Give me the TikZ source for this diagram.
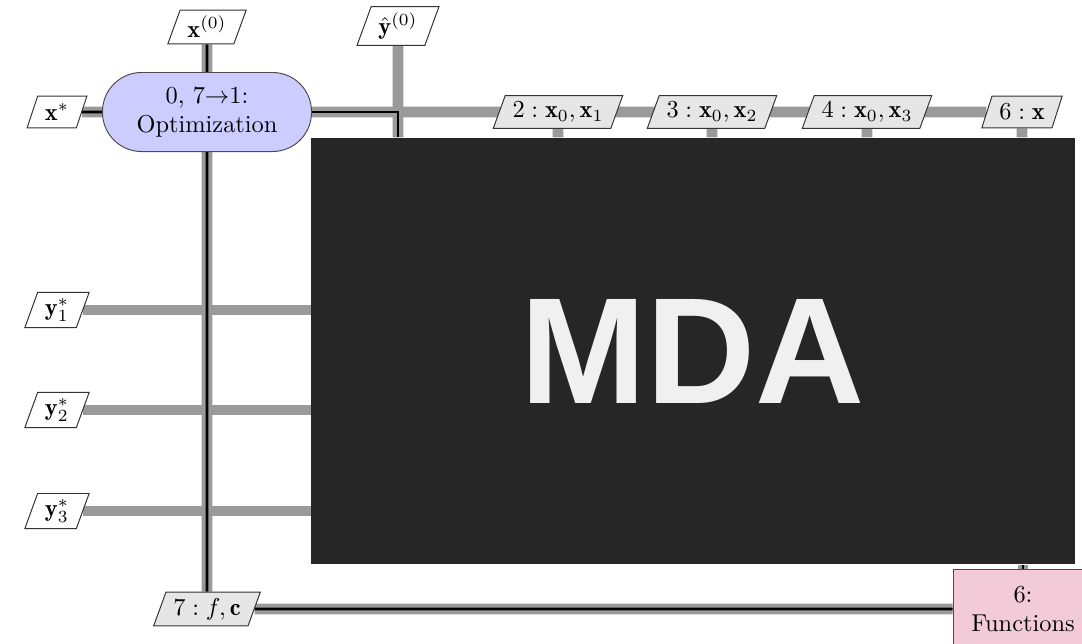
\documentclass[tikz,border=0pt]{standalone}
\usepackage{fontspec}
\newfontfamily\coverfont{Liberation Sans}
\usetikzlibrary{shapes.geometric,positioning}
\pgfdeclarelayer{background}
\pgfsetlayers{background,main}
\definecolor{optblue}{HTML}{CCCCFF}
\definecolor{funcpink}{HTML}{F2CAD8}
\definecolor{datagray}{HTML}{E6E6E6}
\definecolor{linegray}{HTML}{9A9A9A}
\definecolor{coverdark}{HTML}{262626}

\begin{document}
\begin{tikzpicture}[x=0.41pt,y=-0.41pt,
	datain/.style={trapezium, trapezium left angle=70, trapezium right angle=110, trapezium stretches body,
		draw=black!80, fill=white, inner xsep=3pt, inner ysep=2.5pt, minimum height=13pt},
	datamid/.style={datain, fill=datagray},
	optbox/.style={rectangle, rounded corners=16pt, draw=black!70, fill=optblue, align=center,
		minimum width=85.7pt, minimum height=32.4pt, inner sep=1pt},
	funcbox/.style={rectangle, draw=black!70, fill=funcpink, align=center,
		minimum width=57.4pt, minimum height=32.8pt, inner sep=1pt},
	coverbox/.style={rectangle, fill=coverdark, text=white!94!black, minimum width=313.2pt, minimum height=174.7pt,
		font=\coverfont\bfseries\fontsize{62}{62}\selectfont},
	dataline/.style={line width=4.4pt, draw=linegray},
	procline/.style={line width=1.1pt, draw=black}]
	\useasboundingbox (0,0) rectangle (1082,643);
	\clip (0,0) rectangle (1082,643);
	% nodes
	\node[optbox] (opt) at (207,112) {0, 7$\to$1:\\Optimization};
	\node[datain] (xzero) at (207,27) {$\mathbf{x}^{(0)}$};
	\node[datain] (yhat) at (398,26) {$\hat{\mathbf{y}}^{(0)}$};
	\node[datain] (xstar) at (57,112) {$\mathbf{x}^{*}$};
	\node[datamid] (d2) at (558,112) {$2:\mathbf{x}_0,\mathbf{x}_1$};
	\node[datamid] (d3) at (712,112) {$3:\mathbf{x}_0,\mathbf{x}_2$};
	\node[datamid] (d4) at (867,112) {$4:\mathbf{x}_0,\mathbf{x}_3$};
	\node[datamid] (d6) at (1022,112) {$6:\mathbf{x}$};
	\foreach \i/\yy in {1/310,2/410,3/511}
		\node[datain] (ys\i) at (57,\yy) {$\mathbf{y}_{\i}^{*}$};
	\node[datamid] (dout) at (207,609) {$7:f,\mathbf{c}$};
	\node[funcbox] (func) at (1023,609) {6:\\Functions};
	\node[coverbox] (mda) at (693,351) {MDA};
	% connectors
	\begin{pgfonlayer}{background}
		\fill[white] (0,0) rectangle (1082,643);
		\foreach \y in {ys1,ys2,ys3} { \draw[dataline] (\y) -- (\y -| mda.west); }
		\draw[dataline] (opt.east) -- (d6);
		\draw[dataline] (yhat) -- (yhat |- mda.north);
		\foreach \d in {d2,d3,d4,d6} { \draw[dataline] (\d) -- (\d |- mda.north); }
		\draw[dataline] (xstar) -- (opt);
		\draw[dataline] (xzero) -- (opt);
		\draw[dataline] (opt) -- (dout);
		\draw[dataline] (dout) -- (func);
		\draw[dataline] (func) -- (func |- mda.south);
		\draw[procline] (xstar) -- (opt);
		\draw[procline] (xzero) -- (opt);
		\draw[procline] (opt) -- (dout);
		\draw[procline] (dout) -- (func);
		\draw[procline] (func) -- (func |- mda.south);
		\draw[procline] (opt.east) -| (yhat |- mda.north);
	\end{pgfonlayer}
\end{tikzpicture}
\end{document}
